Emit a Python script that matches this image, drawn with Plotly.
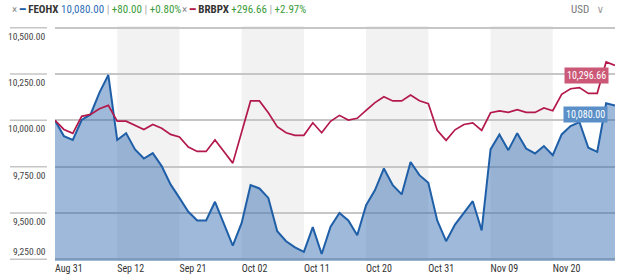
import plotly.graph_objects as go

# ---- data ----
tick_labels = ["Aug 31", "Sep 12", "Sep 21", "Oct 02", "Oct 11", "Oct 20", "Oct 31", "Nov 09", "Nov 20"]
tick_index = [0, 7, 14, 21, 28, 35, 42, 49, 56]
band_starts = [7, 21, 35, 49]
band_width = 7

feohx = [10000, 9915, 9894, 10002, 10032, 10150, 10245, 9894, 9931, 9843, 9794, 9823, 9753, 9654, 9581, 9506,
         9459, 9459, 9560, 9437, 9323, 9446, 9650, 9632, 9581, 9401, 9347, 9314, 9289, 9423, 9278, 9425,
         9500, 9459, 9379, 9542, 9623, 9740, 9650, 9600, 9775, 9704, 9663, 9459, 9347, 9437, 9500, 9563,
         9405, 9843, 9924, 9839, 9931, 9848, 9821, 9861, 9812, 9924, 9969, 9991, 9852, 9830, 10092, 10080.00]
brbpx = [10000, 9951, 9930, 10022, 10032, 10063, 10081, 9996, 9996, 9973, 9951, 9978, 9957, 9924, 9910, 9856,
         9832, 9832, 9894, 9832, 9769, 9937, 10105, 10105, 10041, 9966, 9933, 9919, 9919, 9987, 9933, 9995,
         10027, 10002, 10011, 10054, 10096, 10128, 10105, 10105, 10137, 10106, 10090, 9946, 9892, 9949, 9978, 9986,
         9946, 10041, 10051, 10043, 10058, 10043, 10043, 10067, 10052, 10141, 10171, 10177, 10146, 10146, 10316, 10296.66]
y_ticks = [9250, 9500, 9750, 10000, 10250, 10500]
y_tick_labels = ["9,250.00", "9,500.00", "9,750.00", "10,000.00", "10,250.00", "10,500.00"]

FONT = "Roboto Condensed, Liberation Sans Narrow, DejaVu Sans Condensed, Arial Narrow, Roboto, sans-serif"
BLUE = "#1f5fa8"
RED = "#b3194a"
GREEN = "#3b9b3b"
GRID = "#c6c6c6"

x = list(range(len(feohx)))
W, H = 624, 274
ML, MR, MT, MB = 55, 9, 26, 13
PW = W - ML - MR
PH = H - MT - MB


def px_x(p):
    return (p - ML) / PW


def px_y(p):
    return 1 - (p - MT) / PH


fig = go.Figure()
fig.add_trace(go.Scatter(x=x, y=feohx, mode="lines", line=dict(color=BLUE, width=2),
                         fill="tozeroy", fillcolor="rgba(40,100,170,0.45)", hoverinfo="skip"))
fig.add_trace(go.Scatter(x=x, y=brbpx, mode="lines", line=dict(color=RED, width=1.7), hoverinfo="skip"))

shapes = []
for b in band_starts:
    shapes.append(dict(type="rect", xref="x", yref="paper", x0=b, x1=b + band_width, y0=0, y1=1,
                       fillcolor="#f2f2f2", line=dict(width=0), layer="below"))
for v in y_ticks:
    shapes.append(dict(type="line", xref="paper", yref="y", x0=px_x(10), x1=px_x(47), y0=v, y1=v,
                       line=dict(color=GRID, width=1.5)))

annotations = []
for v, t in zip(y_ticks, y_tick_labels):
    bottom = v == y_ticks[0]
    annotations.append(dict(xref="paper", yref="y", x=px_x(48), y=v, text=t, showarrow=False,
                            xanchor="right", yanchor="bottom" if bottom else "top",
                            yshift=0 if bottom else -1,
                            font=dict(family=FONT, size=9.5, color="#444")))

# end badges
annotations.append(dict(xref="x", yref="y", x=x[-1], y=brbpx[-1], text=f"{brbpx[-1]:,.2f}", showarrow=False,
                        xanchor="right", yanchor="top", xshift=-6, yshift=-2, bgcolor="#cc5877",
                        borderpad=2, font=dict(family=FONT, size=10, color="white")))
annotations.append(dict(xref="x", yref="y", x=x[-1], y=feohx[-1], text=f"{feohx[-1]:,.2f}", showarrow=False,
                        xanchor="right", yanchor="top", xshift=-7, yshift=0, bgcolor="#5a8fc8",
                        borderpad=2, font=dict(family=FONT, size=10, color="white")))


def header(name, color, last, first, show_value):
    chg = last - first
    pct = chg / first * 100
    sep = '<span style="color:#aaa"> | </span>'
    s = f'<span style="color:#888">×</span> <span style="color:{color}"><b>━</b></span> <b>{name}</b> '
    if show_value:
        s += f'<span style="color:#2f6db5">{last:,.2f}</span>' + sep
    s += f'<span style="color:{GREEN}">{chg:+,.2f}</span>' + sep + f'<span style="color:{GREEN}">{pct:+.2f}%</span>'
    return s


annotations.append(dict(xref="paper", yref="paper", x=px_x(10), y=px_y(10), text=header("FEOHX", BLUE, feohx[-1], feohx[0], True),
                        showarrow=False, xanchor="left", yanchor="middle", font=dict(family=FONT, size=11, color="#333")))
annotations.append(dict(xref="paper", yref="paper", x=px_x(180), y=px_y(10), text=header("BRBPX", RED, brbpx[-1], brbpx[0], False),
                        showarrow=False, xanchor="left", yanchor="middle", font=dict(family=FONT, size=11, color="#333")))
annotations.append(dict(xref="paper", yref="paper", x=px_x(569), y=px_y(10), text='USD <span style="color:#999">  ∨</span>',
                        showarrow=False, xanchor="left", yanchor="middle", font=dict(family=FONT, size=11, color="#777")))

fig.update_layout(
    width=W, height=H, margin=dict(l=ML, r=MR, t=MT, b=MB, autoexpand=False),
    paper_bgcolor="white", plot_bgcolor="white", showlegend=False,
    shapes=shapes, annotations=annotations,
    xaxis=dict(range=[0, len(x) - 1], tickvals=tick_index, ticktext=tick_labels, showgrid=False,
               zeroline=False, showline=False, ticks="", ticklabelposition="outside right",
               tickfont=dict(family=FONT, size=10, color="#333"), fixedrange=True, automargin=False),
    yaxis=dict(range=[9240, 10510], tickvals=y_ticks, showticklabels=False, showgrid=True,
               gridcolor=GRID, gridwidth=1.5, zeroline=False, showline=False, ticks="", fixedrange=True,
               automargin=False),
)

fig.write_html("out.html")
